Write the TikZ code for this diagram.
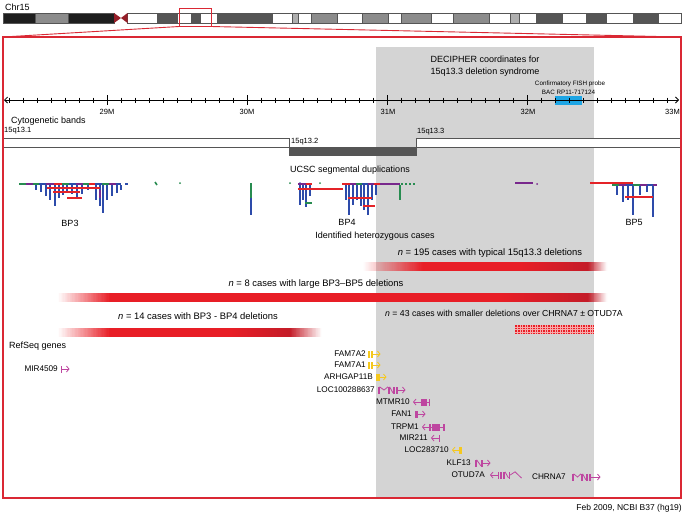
\documentclass[tikz,border=0pt]{standalone}
\usepackage{fontspec}
\setmainfont{Liberation Sans}
\usetikzlibrary{arrows.meta}
\definecolor{frred}{RGB}{218,40,52}
\definecolor{barred}{RGB}{232,30,38}
\definecolor{bardark}{RGB}{196,28,40}
\definecolor{decgray}{RGB}{212,212,212}
\definecolor{probeblue}{RGB}{30,165,228}
\definecolor{genemag}{RGB}{190,70,160}
\definecolor{geneyel}{RGB}{245,200,30}
\definecolor{sdgreen}{RGB}{40,140,80}
\definecolor{sdpurple}{RGB}{120,40,140}
\definecolor{sdblue}{RGB}{45,75,170}
\definecolor{sdred}{RGB}{228,35,40}
\definecolor{bandblack}{RGB}{30,30,30}
\definecolor{banddark}{RGB}{85,85,85}
\definecolor{bandmid}{RGB}{140,140,140}
\definecolor{bandlight}{RGB}{175,175,175}
\definecolor{cenred}{RGB}{150,30,40}
\definecolor{gridpink}{RGB}{248,170,170}
% solid colour slices: #1 colour, #2 x start, #3 x end, #4 y top, #5 y bottom,
% #6 percent at start, #7 percent at end, #8 background colour
\newcommand{\fadebar}[8]{%
  \foreach \k in {0,...,39}{%
    \pgfmathsetmacro{\xa}{#2+(#3-#2)*\k/40}%
    \pgfmathsetmacro{\xb}{#2+(#3-#2)*(\k+1)/40+0.3}%
    \pgfmathtruncatemacro{\pc}{round(#6+(#7-#6)*(\k+0.5)/40)}%
    \fill[#1!\pc!#8] (\xa,#4) rectangle (\xb,#5);}}
\begin{document}
\begin{tikzpicture}[x=1pt,y=-1pt,
  lab/.style={inner sep=0pt, font=\fontsize{9}{10}\selectfont},
  barlab/.style={inner sep=0pt, font=\fontsize{9.4}{10}\selectfont},
  small/.style={inner sep=0pt, font=\fontsize{7.5}{8}\selectfont},
  tiny/.style={inner sep=0pt, font=\fontsize{6.3}{7}\selectfont},
  glab/.style={inner sep=0pt, anchor=east, font=\fontsize{8.2}{9}\selectfont},
  band/.style={draw=banddark, line width=0.5pt},
  frame/.style={draw=frred, line width=1.1pt},
  sdtop/.style={line width=2.6pt},
  sddrop/.style={sdblue, line width=1.7pt},
  sdh/.style={sdred, line width=1.6pt},
  gl/.style={line width=0.8pt},
  rarr/.style={line width=0.8pt, -{Straight Barb[length=2.5pt,width=6pt]}},
]
\useasboundingbox (0,0) rectangle (685,515);
\fill[white] (0,0) rectangle (685,515);

% ---------- chromosome ideogram ----------
\node[lab, anchor=west] (chr) at (5,7) {Chr15};
\foreach \a/\b/\c in {3/35/bandblack, 35/68/bandmid, 68/114/bandblack,
  127.5/157/white, 157/177/banddark, 177/191/white, 191/200/banddark, 200/217/white,
  217/272/banddark, 272/292/white, 292/298/bandlight, 298/311/white, 311/337/bandmid,
  337/362/white, 362/388/bandmid, 388/401/white, 401/431/bandmid, 431/453/white,
  453/489/bandmid, 489/510/white, 510/519/bandlight, 519/536/white, 536/562/banddark,
  562/586/white, 586/606/banddark, 606/633/white, 633/658/banddark, 658/681/white}
  {\filldraw[fill=\c, band] (\a,13) rectangle (\b,23);}
\fill[cenred] (114,13) -- (121,18) -- (114,23) -- cycle;
\fill[cenred] (127.5,13) -- (121,18) -- (127.5,23) -- cycle;
\draw[frred, line width=1pt] (179,8) rectangle (211,26.5);
\coordinate (zl) at (179,26.5);
\coordinate (zr) at (211,26.5);
\coordinate (fl) at (3,37);
\coordinate (fr) at (681,37);
\draw[frred, line width=0.9pt] (zl) -- (fl);
\draw[frred, line width=0.9pt] (zr) -- (fr);

% ---------- DECIPHER region ----------
\fill[decgray] (376,47) rectangle (594,498);
\node[lab] (decA) at (485,59) {DECIPHER coordinates for};
\node[lab] (decB) at (485,72) {15q13.3 deletion syndrome};
\node[tiny] (fishA) at (570,84) {Confirmatory FISH probe};
\node[tiny] (fishB) at (568.5,92) {BAC RP11-717124};
\fill[probeblue] (555,96) rectangle (582,105);

% ---------- axis ----------
\coordinate (axl) at (4,100);
\coordinate (axr) at (679,100);
\draw[line width=0.8pt, {Straight Barb[length=3pt,width=6pt]}-{Straight Barb[length=3pt,width=6pt]}] (axl) -- (axr);
\foreach \i in {0,...,47} {\draw[line width=0.7pt] (9+14*\i,97.5) -- (9+14*\i,102.5);}
\foreach \x in {107,247,387,527} {\draw[line width=0.8pt] (\x,95) -- (\x,105);}
\node[small] (t29) at (107,112) {29M};
\node[small] (t30) at (247,112) {30M};
\node[small] (t31) at (388,112) {31M};
\node[small] (t32) at (528,112) {32M};
\node[small, anchor=east] (t33) at (680,112) {33M};

% ---------- cytogenetic bands ----------
\node[lab, anchor=west] (cyto) at (11,121) {Cytogenetic bands};
\node[small, anchor=west] (b1lab) at (4,131) {15q13.1};
\node[small, anchor=west] (b2lab) at (291,141.5) {15q13.2};
\node[small, anchor=west] (b3lab) at (417,131.5) {15q13.3};
\filldraw[fill=white, band] (3,138) rectangle (289,147);
\filldraw[fill=banddark, band] (289,147) rectangle (416,155);
\filldraw[fill=white, band] (416,138) rectangle (681,147);

% ---------- segmental duplications ----------
\node[lab] (ucsc) at (350,170) {UCSC segmental duplications};
% BP3
\foreach \a/\b/\c in {19/26/sdgreen, 26/33/sdpurple, 33/39/sdgreen, 39/46/sdblue, 46/54/sdpurple,
  54/62/sdred, 62/69/sdgreen, 69/76/sdblue, 76/83/sdpurple, 83/89/sdgreen, 89/95/sdred,
  95/102/sdblue, 102/109/sdgreen, 109/116/sdpurple, 116/121/sdblue}
  {\draw[\c, sdtop] (\a,184) -- (\b,184);}
\draw[sdblue, sdtop] (125,184) -- (128,184);
\foreach \x/\e in {36/190, 41/192, 46/196, 50/200, 55/206, 59/198, 63/195, 67/192, 72/194,
  77/199, 82/194, 88/190, 96/200, 100/206, 103/213, 107/200, 112/196, 117/193, 121/190}
  {\draw[sddrop] (\x,185) -- (\x,\e);}
\draw[sdpurple, line width=1.7pt] (100,190) -- (100,198);
\draw[sdh] (47,188) -- (100,188);
\draw[sdh] (53,192) -- (80,192);
\draw[sdh] (67,198) -- (82,198);
\draw[sdgreen, line width=1.6pt] (155,182) -- (157,185);
\fill[sdgreen] (180,183) circle (1);
\draw[sdgreen, line width=1.8pt] (251,183) -- (251,198);
\draw[sdblue, line width=1.8pt] (251,198) -- (251,215);
% BP4 left part
\fill[sdgreen] (290,183) circle (1);
\fill[sdblue] (300,183) circle (1);
\fill[sdgreen] (320,183) circle (1);
\draw[sdpurple, sdtop] (298,184) -- (306,184);
\draw[sdred, sdtop] (306,184) -- (312,184);
\foreach \x/\e in {300/205, 303/200, 306/207, 310/196}
  {\draw[sddrop] (\x,185) -- (\x,\e);}
\draw[sdh] (298,189) -- (343,189);
\draw[sdgreen, line width=1.5pt] (305,203) -- (312,203);
% BP4 main
\foreach \a/\b/\c in {342/350/sdred, 350/356/sdpurple, 356/362/sdgreen, 362/368/sdblue,
  368/374/sdpurple, 374/380/sdred, 380/400/sdpurple}
  {\draw[\c, sdtop] (\a,184) -- (\b,184);}
\foreach \a in {401,405,409,413}{\draw[sdgreen, sdtop] (\a,184) -- (\a+2,184);}
\foreach \x/\e in {346/200, 349/215, 353/205, 357/200, 361/206, 364/210, 368/215, 372/200, 376/195}
  {\draw[sddrop] (\x,185) -- (\x,\e);}
\draw[sdh] (348,198) -- (372,198);
\draw[sdh] (363,206) -- (375,206);
\draw[sdgreen, line width=1.7pt] (400,185) -- (400,200);
% middle
\draw[sdpurple, line width=1.8pt] (515,183) -- (533,183);
\fill[sdpurple] (537,184) circle (1);
% BP5
\draw[sdh] (590,183) -- (633,183);
\foreach \a/\b/\c in {612/619/sdgreen, 619/626/sdpurple, 626/633/sdblue, 633/640/sdgreen,
  640/647/sdpurple, 647/653/sdblue, 653/657/sdpurple}
  {\draw[\c, sdtop] (\a,185) -- (\b,185);}
\foreach \x/\e in {617/195, 623/202, 628/200, 633/215, 640/195, 647/192, 653/217}
  {\draw[sddrop] (\x,186) -- (\x,\e);}
\draw[sdh] (625,197) -- (653,197);
\node[lab] (bp3) at (70,223) {BP3};
\node[lab] (bp4) at (347,222) {BP4};
\node[lab] (bp5) at (634,222) {BP5};

% ---------- heterozygous cases ----------
\node[lab] (ident) at (375,236) {Identified heterozygous cases};
% n = 195 bar
\node[barlab] (n195) at (490,253) {\textit{n} = 195 cases with typical 15q13.3 deletions};
\fadebar{barred}{363}{376}{262}{270.5}{0}{22}{white}
\fadebar{barred}{376}{423}{262}{270.5}{22}{100}{decgray}
\fill[barred] (423,262) rectangle (520.3,270.5);
\fadebar{bardark}{520}{588}{262}{270.5}{0}{100}{barred}
\fadebar{bardark}{588}{594}{262}{270.5}{100}{68}{decgray}
\fadebar{bardark}{594}{607}{262}{270.5}{68}{0}{white}
% n = 8 bar
\node[barlab] (n8) at (316,284.5) {\textit{n} = 8 cases with large BP3--BP5 deletions};
\fadebar{barred}{58}{110}{293}{302}{0}{100}{white}
\fill[barred] (110,293) rectangle (500.3,302);
\fadebar{bardark}{500}{588}{293}{302}{0}{100}{barred}
\fadebar{bardark}{588}{594}{293}{302}{100}{68}{decgray}
\fadebar{bardark}{594}{607}{293}{302}{68}{0}{white}
% n = 14 bar
\node[barlab] (n14) at (198,316.5) {\textit{n} = 14 cases with BP3 - BP4 deletions};
\fadebar{barred}{58}{110}{328}{336.5}{0}{100}{white}
\fill[barred] (110,328) rectangle (230.3,336.5);
\fadebar{bardark}{230}{290}{328}{336.5}{0}{100}{barred}
\fadebar{bardark}{290}{322}{328}{336.5}{100}{0}{white}
% n = 43 bar
\node[inner sep=0pt, font=\fontsize{8.7}{10}\selectfont] (n43) at (504,313) {\textit{n} = 43 cases with smaller deletions over CHRNA7 ± OTUD7A};
\fill[barred] (515,325) rectangle (594,334);
\foreach \x in {517.5,520,...,593} {\draw[gridpink, line width=0.3pt] (\x,325) -- (\x,334);}
\foreach \y in {327.3,329.6,331.9} {\draw[gridpink, line width=0.3pt] (515,\y) -- (594,\y);}

% ---------- RefSeq genes ----------
\node[lab, anchor=west] (refseq) at (9,346) {RefSeq genes};
\node[glab] (gMIR4509) at (58,369) {MIR4509};
\node[glab] (gFAM7A2) at (366,354) {FAM7A2};
\node[glab] (gFAM7A1) at (366,365) {FAM7A1};
\node[glab] (gARH) at (373,377) {ARHGAP11B};
\node[glab] (gLOC1) at (375,390) {LOC100288637};
\node[glab] (gMTMR10) at (410,402) {MTMR10};
\node[glab] (gFAN1) at (412,414) {FAN1};
\node[glab] (gTRPM1) at (419,427) {TRPM1};
\node[glab] (gMIR211) at (428,438) {MIR211};
\node[glab] (gLOC2) at (449,450) {LOC283710};
\node[glab] (gKLF13) at (471,463) {KLF13};
\node[glab] (gOTUD7A) at (485,475) {OTUD7A};
\node[glab] (gCHRNA7) at (566,477) {CHRNA7};

% gene glyphs
% MIR4509
\fill[genemag] (60.5,365.5) rectangle (62,372.5);
\draw[genemag, rarr] (62,369) -- (69.5,369);
% FAM7A2 / FAM7A1
\foreach \y in {354,365}{
  \fill[geneyel] (368,\y-3.5) rectangle (369.6,\y+3.5);
  \fill[geneyel] (371,\y-3.5) rectangle (372.6,\y+3.5);
  \draw[geneyel, rarr] (372.6,\y) -- (380.5,\y);}
% ARHGAP11B
\fill[geneyel] (376,373.5) rectangle (379.5,380.5);
\draw[geneyel, rarr] (379.5,377) -- (386.5,377);
% LOC100288637
\fill[genemag] (378,386.5) rectangle (379.6,393.5);
\draw[genemag, gl] (379.6,386.8) -- (384,390) -- (388,386.8);
\fill[genemag] (388,386.5) rectangle (389.6,393.5);
\draw[genemag, gl] (389.6,386.8) -- (393,393);
\fill[genemag] (393,386.5) rectangle (394.8,393.5);
\fill[genemag] (396,386.5) rectangle (397.6,393.5);
\draw[genemag, rarr] (397.6,390) -- (405.5,390);
% MTMR10
\draw[genemag, rarr] (421,402) -- (413,402);
\fill[genemag] (421,398.5) rectangle (427,405.5);
\draw[genemag, gl] (427,402) -- (428.5,402);
\fill[genemag] (428.5,398.5) rectangle (430,405.5);
% FAN1
\fill[genemag] (415,410.5) rectangle (418,417.5);
\draw[genemag, rarr] (418,414) -- (425.5,414);
% TRPM1
\draw[genemag, rarr] (429,427) -- (422,427);
\fill[genemag] (429,423.5) rectangle (430.5,430.5);
\draw[genemag, gl] (430.5,427) -- (443,427);
\fill[genemag] (432,423.5) rectangle (440,430.5);
\fill[genemag] (443,423.5) rectangle (444.5,430.5);
% MIR211
\draw[genemag, rarr] (438.5,438) -- (431,438);
\fill[genemag] (438.5,434.5) rectangle (440,441.5);
% LOC283710
\draw[geneyel, rarr] (458.5,450) -- (452,450);
\fill[geneyel] (458.5,446.5) rectangle (462,453.5);
% KLF13
\fill[genemag] (475,459.5) rectangle (476.6,466.5);
\draw[genemag, gl] (476.6,459.8) -- (481,466);
\fill[genemag] (481,459.5) rectangle (483,466.5);
\draw[genemag, rarr] (483,463) -- (490.5,463);
% OTUD7A
\draw[genemag, rarr] (497.5,475) -- (490,475);
\fill[genemag] (497.5,471.5) rectangle (499,478.5);
\fill[genemag] (500,471.5) rectangle (501.6,478.5);
\fill[genemag] (502.6,471.5) rectangle (505,478.5);
\draw[genemag, gl] (505,471.8) -- (508.5,478);
\fill[genemag] (508.5,471.5) rectangle (510.2,478.5);
\draw[genemag, gl] (510.2,475) -- (515,471.8) -- (521.5,478);
% CHRNA7
\fill[genemag] (572,473.5) rectangle (573.6,480.5);
\draw[genemag, gl] (573.6,473.8) -- (577.5,477) -- (581,473.8);
\fill[genemag] (581,473.5) rectangle (582.6,480.5);
\draw[genemag, gl] (582.6,473.8) -- (586,480);
\fill[genemag] (586,473.5) rectangle (587.6,480.5);
\fill[genemag] (589,473.5) rectangle (590.6,480.5);
\draw[genemag, rarr] (590.6,477) -- (600.5,477);

% ---------- frame and footer ----------
\draw[frame] (fl) rectangle (681,498);
\node[lab, anchor=east, font=\fontsize{8.5}{9}\selectfont] (foot) at (682,508) {Feb 2009, NCBI B37 (hg19)};
\end{tikzpicture}
\end{document}
